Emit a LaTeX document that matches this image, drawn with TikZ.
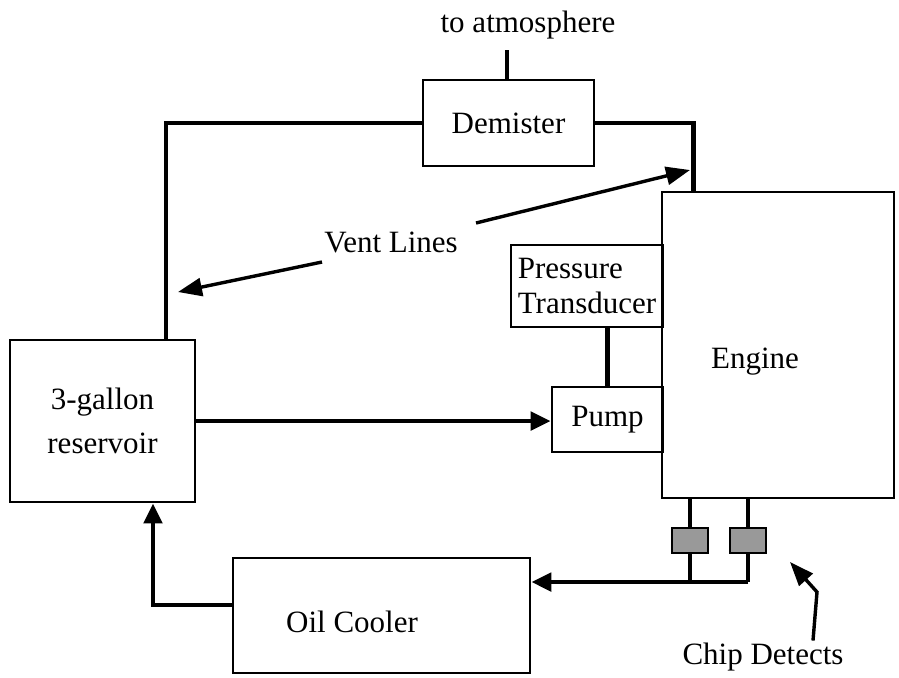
\documentclass[tikz,border=0pt]{standalone}
\usepackage{fontspec}
\setmainfont{Liberation Serif}
\usetikzlibrary{arrows.meta, positioning}
\tikzset{
  % Component boxes
  unit/.style={rectangle, draw, line width=1.3pt, inner sep=0pt, font=\fontsize{15.5}{17.5}\selectfont},
  % Oil and vent piping
  pipe/.style={line width=2.4pt},
  flow/.style={pipe, -{Triangle[length=10pt, width=9pt]}},
  % Pointers from labels
  callout/.style={line width=1.7pt, -{Triangle[length=12pt, width=9pt]}},
  lbl/.style={font=\fontsize{15.5}{17.5}\selectfont, inner sep=1pt},
  chipbox/.style={rectangle, draw, line width=1.3pt, fill=black!40, minimum width=18pt, minimum height=12.5pt, inner sep=0pt},
}

\begin{document}
\begin{tikzpicture}[x=0.5pt, y=-0.5pt]
  \useasboundingbox (0,0) rectangle (899,677);

  % --- COMPONENTS ---
  \node[unit, minimum width=85.5pt, minimum height=43pt] (demister) at (508.5,123) {Demister};
  \node[unit, minimum width=116pt, minimum height=153pt] (engine) at (778,345) {};
  \node[lbl] (enginetext) at (755,362) {Engine};
  \node[unit, minimum width=76pt, minimum height=41pt, align=left] (transducer) at (587,286) {Pressure\\Transducer};
  \node[unit, minimum width=55.5pt, minimum height=32.5pt] (pump) at (607.5,419.5) {Pump};
  \node[unit, minimum width=92.5pt, minimum height=81pt, align=center, font=\fontsize{15.5}{22}\selectfont] (reservoir) at (102.5,421) {3-gallon\\reservoir};
  \node[unit, minimum width=148.5pt, minimum height=57.5pt] (cooler) at (381.5,615.5) {};
  \node[lbl] (coolertext) at (352,622) {Oil Cooler};

  % Chip detectors below the engine
  \node[chipbox] (chip1) at (690,540.5) {};
  \node[chipbox] (chip2) at (748,540.5) {};
  \coordinate (ret) at (748,582);

  % --- VENT LINES ---
  \coordinate (atm) at (507,50);
  \node[lbl] (atmtext) at (528,25) {to atmosphere};
  \draw[pipe] (demister.north -| atm) -- (atm);
  \draw[pipe] ([xshift=31.75pt]reservoir.north) |- (demister.west);
  \draw[pipe] (demister.east) -| ([xshift=16.5pt]engine.north west);

  % --- OIL CIRCUIT ---
  \draw[flow] (reservoir.east) -- (reservoir.east -| pump.west);
  \draw[pipe] (pump.north) -- (pump.north |- transducer.south);
  \draw[pipe] (engine.south -| chip1) -- (chip1.north);
  \draw[pipe] (engine.south -| chip2) -- (chip2.north);
  \draw[pipe] (chip1.south) -- (chip1 |- ret);
  \draw[pipe] (chip2.south) -- (ret);
  \draw[flow] (ret) -- (ret -| cooler.east);
  \draw[flow] ([yshift=5.25pt]cooler.west) -| ([xshift=25.25pt]reservoir.south);

  % --- LABELS ---
  \node[lbl] (vent) at (391,242) {Vent Lines};
  \coordinate (venttip1) at (690,170);
  \coordinate (venttip2) at (178,292);
  \draw[callout] (476,223) -- (venttip1);
  \draw[callout] (322,262) -- (venttip2);

  \node[lbl] (chiptext) at (763,657) {Chip Detects};
  \coordinate (chiptip) at (790,562);
  \draw[callout] (chiptext.north -| 813,0) -- (817,592) -- (chiptip);
\end{tikzpicture}
\end{document}
